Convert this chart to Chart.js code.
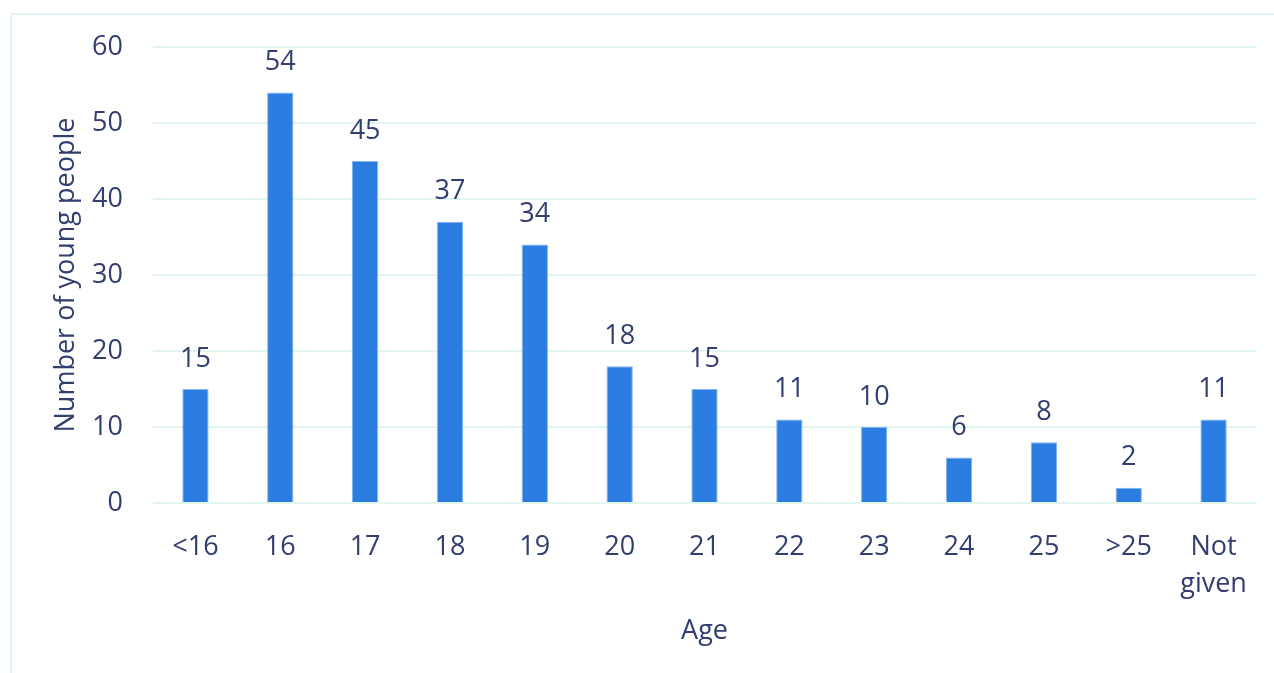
<!DOCTYPE html>
<html>
<head>
<meta charset="utf-8">
<script src="https://cdn.jsdelivr.net/npm/chart.js@4.4.1/dist/chart.umd.min.js"></script>
<style>
  html, body { margin: 0; padding: 0; background: #ffffff; }
  #wrap { width: 1274px; height: 673px; position: relative; }
</style>
</head>
<body>
<div id="wrap"><canvas id="myChart" width="1274" height="673"></canvas></div>
<script>
var ages = ['<16', '16', '17', '18', '19', '20', '21', '22', '23', '24', '25', '>25', ['Not', 'given']];
var counts = [15, 54, 45, 37, 34, 18, 15, 11, 10, 6, 8, 2, 11];
var yTicks = [0, 10, 20, 30, 40, 50, 60];

var textColor = '#323d70';
var gridColor = '#e2f6f1';
var font = "'Open Sans', 'Noto Sans', sans-serif";
var fontSize = 27;

// light frame around the whole figure
const frameBorder = {
  id: 'frameBorder',
  beforeDraw(chart) {
    const ctx = chart.ctx;
    ctx.save();
    ctx.strokeStyle = gridColor;
    ctx.lineWidth = 2;
    ctx.strokeRect(11, 14, 1300, 700);
    ctx.restore();
  }
};

// value written above each bar
const barValues = {
  id: 'barValues',
  afterDatasetsDraw(chart) {
    const ctx = chart.ctx;
    const meta = chart.getDatasetMeta(0);
    ctx.save();
    ctx.fillStyle = textColor;
    ctx.font = fontSize + 'px ' + font;
    ctx.textAlign = 'center';
    ctx.textBaseline = 'middle';
    meta.data.forEach(function(bar, i) {
      ctx.fillText(chart.data.datasets[0].data[i], bar.x, bar.y - 30);
    });
    ctx.restore();
  }
};

new Chart(document.getElementById('myChart'), {
  type: 'bar',
  data: {
    labels: ages,
    datasets: [{
      data: counts,
      backgroundColor: '#2b7de1',
      borderColor: '#7fb3ee',
      borderWidth: 1,
      categoryPercentage: 1,
      barPercentage: 0.31
    }]
  },
  options: {
    responsive: false,
    animation: false,
    layout: { padding: { top: 47, right: 18, left: 50, bottom: 25 } },
    plugins: {
      legend: { display: false },
      tooltip: { enabled: false }
    },
    scales: {
      x: {
        grid: { display: false },
        border: { display: false },
        ticks: {
          color: textColor,
          font: { family: font, size: fontSize, lineHeight: 1.36 },
          padding: 18,
          maxRotation: 0,
          autoSkip: false
        },
        title: {
          display: true,
          text: 'Age',
          color: textColor,
          font: { family: font, size: fontSize },
          padding: { top: 0, bottom: 0 }
        },
        afterFit(scale) { scale.height = 673 - 25 - 503; }
      },
      y: {
        min: 0,
        max: 60,
        afterBuildTicks(scale) { scale.ticks = yTicks.map(function(v) { return { value: v }; }); },
        grid: { color: gridColor, lineWidth: 2, drawTicks: false },
        border: { display: false },
        ticks: {
          color: textColor,
          font: { family: font, size: fontSize },
          padding: 30
        },
        title: {
          display: true,
          text: 'Number of young people',
          color: textColor,
          font: { family: font, size: fontSize },
          padding: { top: 0, bottom: 0 }
        },
        afterFit(scale) { scale.width = 153 - 50; }
      }
    }
  },
  plugins: [frameBorder, barValues]
});
</script>
</body>
</html>
